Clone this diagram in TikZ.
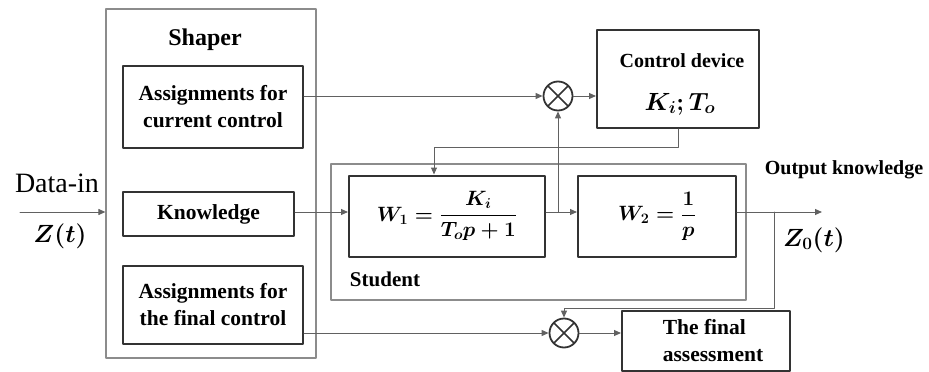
\documentclass[tikz,border=0pt]{standalone}
\usepackage{amsmath}
\usepackage{fontspec}
\setmainfont{Liberation Serif}
\usetikzlibrary{arrows.meta}
\definecolor{lnclr}{rgb}{0.38,0.38,0.38}
\definecolor{bxclr}{rgb}{0.2,0.2,0.2}
\definecolor{frclr}{rgb}{0.55,0.55,0.55}
\newcommand{\wonetext}{$\displaystyle W_1=\frac{K_i}{T_op+1}$}
\newcommand{\wtwotext}{$\displaystyle W_2=\frac{1}{p}$}
\tikzset{
  blk/.style={draw=bxclr,line width=2pt,rectangle,inner sep=2pt,align=center,font=\fontsize{21.5}{27}\selectfont\bfseries},
  frmla/.style={font=\fontsize{22}{26}\selectfont\boldmath},
  frame/.style={draw=frclr,line width=1.2pt,rectangle},
  sumnode/.style={draw=bxclr,line width=1.8pt,circle,minimum size=29pt,inner sep=0pt,
    path picture={\draw[line width=1.6pt,bxclr] (path picture bounding box.south west) -- (path picture bounding box.north east)
      (path picture bounding box.north west) -- (path picture bounding box.south east);}},
  link/.style={draw=lnclr,line width=1pt}
}
\begin{document}
\begin{tikzpicture}[x=1pt,y=-1pt,line cap=round,line join=round,>={Triangle[length=7pt,width=6pt]},font=\fontsize{20}{25}\selectfont]
	\useasboundingbox (0,0) rectangle (929,372);
	% outer frames
	\node[frame,minimum width=210pt,minimum height=349pt] (shaper) at (211,183.5) {};
	\node[frame,minimum width=415pt,minimum height=136pt] (student) at (538.5,232) {};
	\node[font=\fontsize{24}{28}\selectfont\bfseries] (shaperlbl) at (205,40) {Shaper};
	\node[font=\fontsize{21}{25}\selectfont\bfseries] (studlbl) at (385,279) {Student};
	% shaper blocks
	\node[blk,minimum width=180pt,minimum height=82pt] (asgcur) at (213,107) {Assignments for\\current control};
	\node[blk,minimum width=171pt,minimum height=44pt] (know) at (208.5,214) {Knowledge};
	\node[blk,minimum width=180pt,minimum height=78pt] (asgfin) at (213,305) {Assignments for\\the final control};
	% student blocks
	\node[blk,frmla,minimum width=196pt,minimum height=81pt] (wone) at (447,216) {\wonetext};
	\node[blk,frmla,minimum width=158pt,minimum height=81pt] (wtwo) at (657,216) {\wtwotext};
	\node[blk,minimum width=162pt,minimum height=98pt] (ctrl) at (678,79) {};
	\node[font=\fontsize{20}{24}\selectfont\bfseries] (ctrllbl) at (682,61) {Control device};
	\node[font=\fontsize{24}{28}\selectfont\boldmath] (ctrlpar) at (680,104) {$K_i;T_o$};
	\node[blk,minimum width=168pt,minimum height=60pt,align=left] (final) at (706,341) {\hspace*{14pt}The final\\\hspace*{14pt}assessment};
	% junctions
	\node[sumnode] (sumone) at (558,96) {};
	\node[sumnode] (sumtwo) at (564,333) {};
	% input / output labels
	\coordinate (din) at (20,212);
	\coordinate (zout) at (822,212);
	\node[font=\fontsize{28}{32}\selectfont] (dinlbl) at (57,183) {Data-in};
	\node[font=\fontsize{25}{30}\selectfont\boldmath] (zlbl) at (60,236) {$Z(t)$};
	\node[font=\fontsize{25}{30}\selectfont\boldmath] (zolbl) at (814,240) {$Z_0(t)$};
	\node[font=\fontsize{20}{24}\selectfont\bfseries] (outlbl) at (844,170) {Output knowledge};
	% connections
	\draw[link,->] (din) -- (din -| shaper.west);
	\draw[link,->] (sumone.west -| asgcur.east) -- (sumone.west);
	\draw[link,->] (sumone.east) -- (sumone.east -| ctrl.west);
	\coordinate (fbone) at (434,147);
	\draw[link,->] (ctrl.south) |- (fbone) -- (fbone |- wone.north);
	\draw[link,->] (din -| know.east) -- (din -| wone.west);
	\draw[link,->] (din -| wone.east) -- (din -| wtwo.west);
	\draw[link,->] (din -| sumone.south) -- (sumone.south);
	\draw[link,->] (din -| wtwo.east) -- (zout);
	\coordinate (brtwo) at (774,212);
	\coordinate (fbtwo) at (564,308);
	\draw[link,->] (brtwo) |- (fbtwo) -- (sumtwo.north);
	\draw[link,->] (sumtwo.west -| asgfin.east) -- (sumtwo.west);
	\draw[link,->] (sumtwo.east) -- (sumtwo.east -| final.west);
\end{tikzpicture}
\end{document}
